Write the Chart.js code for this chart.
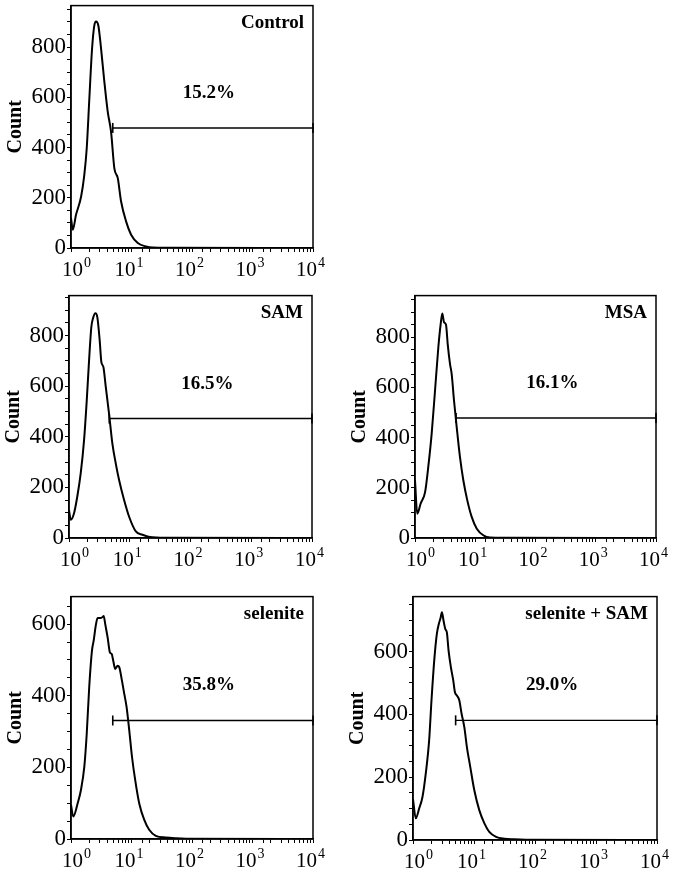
<!DOCTYPE html>
<html>
<head>
<meta charset="utf-8">
<script src="https://cdn.jsdelivr.net/npm/chart.js@4.4.0/dist/chart.umd.min.js"></script>
<style>
  body { margin: 0; background: #fff; overflow: hidden; }
  #wrap { position: relative; width: 673px; height: 874px; }
  #wrap canvas { position: absolute; }
</style>
</head>
<body>
<div id="wrap"></div>
<script>
// values
const panelNames = ['Control', 'SAM', 'MSA', 'selenite', 'selenite + SAM']
const gatePercents = ['15.2%', '16.5%', '16.1%', '35.8%', '29.0%']
const gateStarts = [4.9, 4.6, 4.8, 4.9, 5.0]
const gateLevels = [478, 472, 478, 331, 381]
const countMax = [965, 958, 966, 677, 775]
const countTickLabels = [0, 200, 400, 600, 800]
const decadeLabels = [0, 1, 2, 3, 4]

const controlX = [1.0, 1.07, 1.21, 1.47, 1.66, 1.82, 2.01, 2.23, 2.43, 2.59, 2.83, 3.14, 3.56, 4.05, 4.59, 5.21, 5.93, 6.73, 8.13, 9.85, 12.7, 17.4, 22.5, 40, 10000]
const controlCount = [120, 73, 132, 205, 291, 397, 595, 794, 886, 902, 886, 794, 661, 542, 463, 317, 278, 185, 106, 53, 20, 6, 2, 1, 0]

const samX = [1.0, 1.07, 1.21, 1.37, 1.56, 1.77, 1.96, 2.14, 2.33, 2.51, 2.72, 2.93, 3.2, 3.41, 3.68, 4.03, 4.56, 5.17, 5.88, 6.66, 8.05, 9.73, 12.6, 16.2, 21.3, 40, 10000]
const samCount = [110, 72, 98, 164, 256, 387, 544, 702, 833, 872, 888, 872, 781, 695, 676, 597, 492, 374, 295, 230, 151, 85, 26, 13, 4, 1, 0]

const msaX = [1.0, 1.09, 1.24, 1.47, 1.66, 1.89, 2.15, 2.44, 2.67, 2.84, 3.03, 3.27, 3.49, 3.81, 4.06, 4.44, 4.92, 5.58, 6.34, 7.38, 8.73, 10.6, 13.6, 17.6, 30, 10000]
const msaCount = [230, 97, 137, 183, 283, 415, 588, 760, 853, 895, 860, 850, 773, 694, 654, 548, 442, 322, 230, 150, 84, 37, 11, 2, 1, 0]

const seleniteX = [1.0, 1.09, 1.29, 1.46, 1.66, 1.82, 2.0, 2.22, 2.37, 2.59, 2.75, 3.05, 3.33, 3.47, 3.68, 4.03, 4.4, 4.7, 4.99, 5.38, 5.9, 6.27, 6.94, 7.58, 8.3, 9.17, 10.2, 11.5, 13.4, 16.2, 19.6, 25.2, 37, 54, 80, 10000]
const seleniteCount = [95, 63, 100, 137, 202, 294, 424, 526, 554, 600, 617, 617, 620, 623, 600, 563, 521, 517, 498, 475, 484, 480, 443, 406, 368, 304, 229, 165, 100, 54, 26, 9, 4, 2, 1, 0]

const selSamX = [1.0, 1.11, 1.26, 1.43, 1.62, 1.84, 2.01, 2.23, 2.46, 2.65, 2.83, 2.98, 3.17, 3.38, 3.59, 3.83, 4.18, 4.57, 4.86, 5.24, 5.74, 6.26, 6.93, 7.65, 8.68, 10.1, 12.2, 14.8, 17.8, 23, 31.6, 46, 70, 10000]
const selSamCount = [130, 69, 100, 137, 212, 318, 445, 572, 656, 688, 707, 725, 698, 672, 661, 603, 550, 508, 471, 460, 445, 402, 360, 296, 233, 159, 95, 53, 26, 10, 4, 2, 1, 0]

const seriesX = [controlX, samX, msaX, seleniteX, selSamX]
const seriesCount = [controlCount, samCount, msaCount, seleniteCount, selSamCount]

// page position of each plot box
const boxes = [
  { left: 71, top: 5, right: 313, bottom: 248 },
  { left: 69, top: 295, right: 312, bottom: 538 },
  { left: 415, top: 295, right: 656, bottom: 538 },
  { left: 71, top: 596, right: 313, bottom: 839 },
  { left: 413, top: 596, right: 657, bottom: 840 },
]
const PAD_L = 70, PAD_R = 16, PAD_T = 6, PAD_B = 34
const serif = "'Liberation Serif', 'Times New Roman', serif"

const boxAndLabels = {
  id: 'boxAndLabels',
  afterDraw(chart, args, opts) {
    const { ctx, chartArea: a } = chart
    const { x, y } = chart.scales
    ctx.save()
    ctx.strokeStyle = '#000'
    ctx.lineWidth = 1.5
    ctx.strokeRect(a.left, a.top, a.right - a.left, a.bottom - a.top)

    // decade labels 10^n
    ctx.fillStyle = '#000'
    ctx.textBaseline = 'alphabetic'
    ctx.textAlign = 'left'
    decadeLabels.forEach((p) => {
      const px = x.getPixelForValue(Math.pow(10, p))
      ctx.font = `21px ${serif}`
      const w1 = ctx.measureText('10').width
      ctx.font = `14px ${serif}`
      const w2 = ctx.measureText(String(p)).width
      const start = p === 0 ? px - 9 : px - 3 - (w1 + w2) / 2
      ctx.font = `21px ${serif}`
      ctx.fillText('10', start, a.bottom + 28)
      ctx.font = `14px ${serif}`
      ctx.fillText(String(p), start + w1 + 1, a.bottom + 19)
    })

    ctx.font = `bold 19px ${serif}`
    ctx.textAlign = 'right'
    ctx.fillText(opts.name, a.right - 9, a.top + 22)
    ctx.textAlign = 'center'
    ctx.fillText(opts.percent, x.getPixelForValue(190), y.getPixelForValue(opts.gateLevel) - 30)
    ctx.restore()
  },
}

const wrap = document.getElementById('wrap')

boxes.forEach((b, i) => {
  const canvas = document.createElement('canvas')
  const w = b.right - b.left + PAD_L + PAD_R
  const h = b.bottom - b.top + PAD_T + PAD_B
  canvas.width = w
  canvas.height = h
  canvas.style.left = b.left - PAD_L + 'px'
  canvas.style.top = b.top - PAD_T + 'px'
  canvas.style.width = w + 'px'
  canvas.style.height = h + 'px'
  wrap.appendChild(canvas)

  const points = seriesX[i].map((v, k) => ({ x: v, y: seriesCount[i][k] }))

  new Chart(canvas.getContext('2d'), {
    type: 'line',
    data: {
      datasets: [
        {
          data: points,
          borderColor: '#000',
          borderWidth: 2,
          pointRadius: 0,
          cubicInterpolationMode: 'monotone',
        },
        {
          data: [
            { x: gateStarts[i], y: gateLevels[i] },
            { x: 10000, y: gateLevels[i] },
          ],
          borderColor: '#000',
          borderWidth: 1.4,
          pointStyle: 'line',
          pointRotation: 90,
          pointRadius: 5,
          pointBorderWidth: 1.6,
          pointBorderColor: '#000',
          clip: false,
        },
      ],
    },
    options: {
      responsive: false,
      animation: false,
      devicePixelRatio: 1,
      layout: { padding: { top: PAD_T, right: PAD_R, left: 0, bottom: 0 } },
      plugins: {
        legend: { display: false },
        tooltip: { enabled: false },
        boxAndLabels: { name: panelNames[i], percent: gatePercents[i], gateLevel: gateLevels[i] },
      },
      scales: {
        x: {
          type: 'logarithmic',
          min: 1,
          max: 10000,
          grid: { drawOnChartArea: false, drawTicks: true, tickLength: 4, color: '#000' },
          border: { display: true, color: '#000', width: 1.5 },
          ticks: { autoSkip: false, callback: () => '' },
          afterFit: (s) => {
            s.height = PAD_B
            s.paddingLeft = 0
            s.paddingRight = 0
          },
        },
        y: {
          min: 0,
          max: countMax[i],
          grid: { drawOnChartArea: false, drawTicks: true, tickLength: 4, color: '#000' },
          border: { display: true, color: '#000', width: 1.5 },
          ticks: {
            stepSize: 50,
            maxTicksLimit: 100,
            includeBounds: false,
            autoSkip: false,
            padding: 1,
            color: '#000',
            font: { family: serif, size: 23 },
            callback: (v) => (countTickLabels.includes(v) ? String(v) : ''),
          },
          title: {
            display: true,
            text: 'Count',
            color: '#000',
            font: { family: serif, size: 20, weight: 'bold' },
            padding: { top: 3, bottom: 0 },
          },
          afterFit: (s) => {
            s.width = PAD_L
            s.paddingTop = 0
            s.paddingBottom = 0
          },
        },
      },
    },
    plugins: [boxAndLabels],
  })
})
</script>
</body>
</html>
